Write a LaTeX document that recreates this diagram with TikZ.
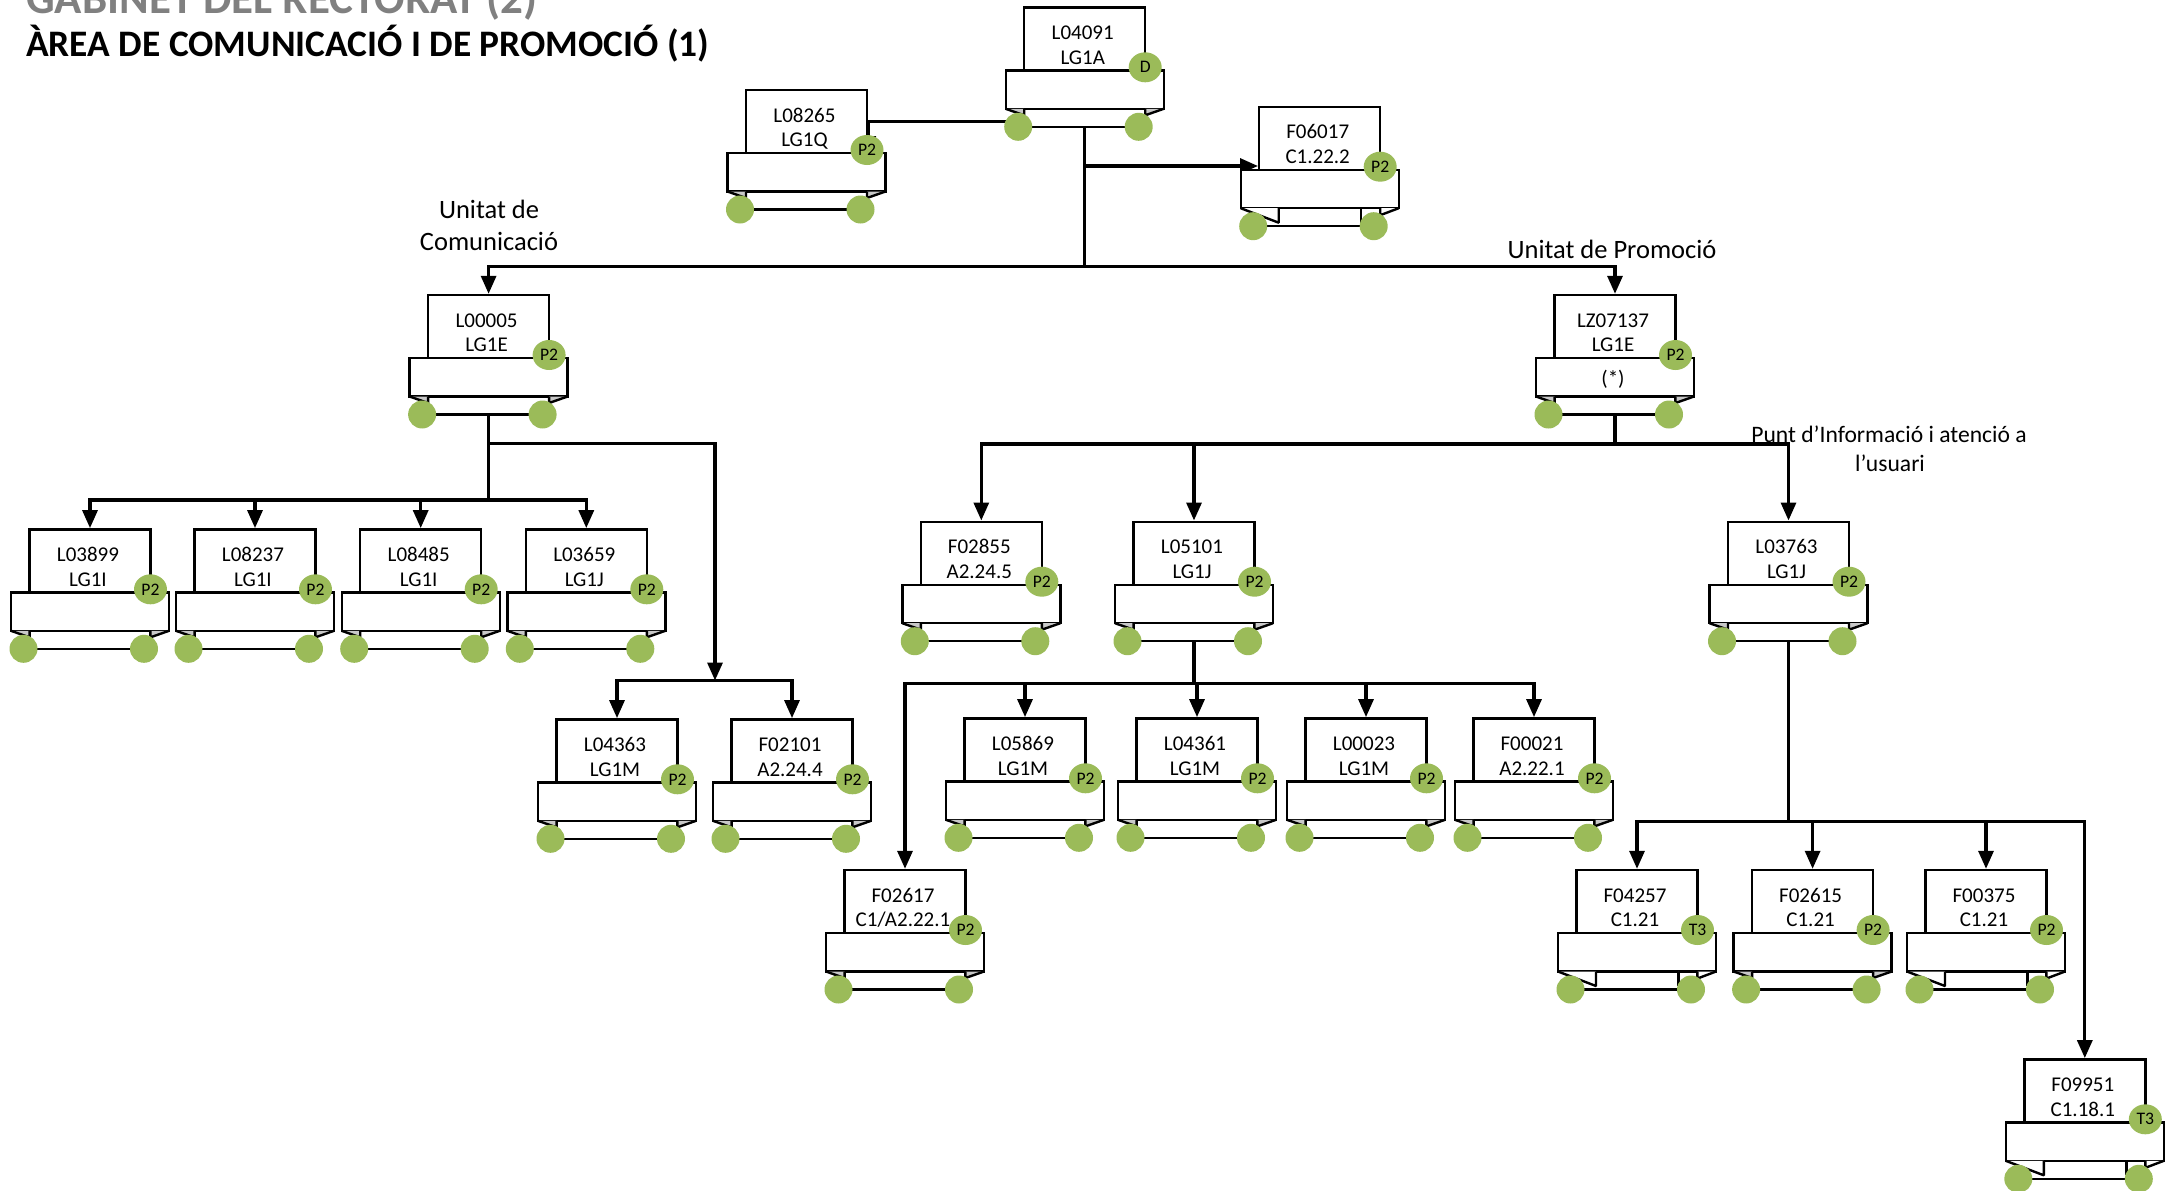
\documentclass[tikz,border=0pt]{standalone}
\usepackage{fontspec}
\setmainfont{Carlito}
\usetikzlibrary{arrows.meta,backgrounds,shapes.geometric}

\definecolor{leaf}{HTML}{9BBB59}
\definecolor{foldgray}{HTML}{C8C8C8}
\definecolor{titlegray}{HTML}{808080}

\tikzset{
  boxline/.style={line width=2.4pt,draw=black,fill=white},
  topbox/.style={boxline,minimum width=121pt,minimum height=63pt,inner sep=0pt},
  rib/.style={boxline,minimum width=158pt,minimum height=38.5pt,inner sep=0pt},
  wheel/.style={circle,fill=leaf,minimum size=28pt,inner sep=0pt},
  badge/.style={ellipse,fill=leaf,minimum width=33pt,minimum height=30pt,inner sep=0pt,
    font=\fontsize{17.6}{18}\selectfont},
  code/.style={anchor=base,inner sep=0pt,font=\fontsize{21}{24}\selectfont},
  unitlbl/.style={anchor=base,inner sep=0pt,font=\fontsize{26.5}{32}\selectfont},
  puntlbl/.style={anchor=base,inner sep=0pt,font=\fontsize{23.6}{29}\selectfont},
  conn/.style={line width=3.2pt,-{Triangle[length=18pt,width=15pt]}}
}

% name, x centre, top, code, level, badge, fold (0 small, 1 big)
\newcommand{\orgunit}[7]{%
  \pgfmathsetmacro{\ulx}{#2-60.5}
  \pgfmathsetmacro{\urx}{#2+60.5}
  \pgfmathsetmacro{\rbot}{#3+101.5}
  \pgfmathsetmacro{\wy}{#3+119.5}
  \node[topbox] (#1) at (#2,{#3+31.5}) {};
  \node[rib] (#1-rib) at (#2,{#3+82.25}) {};
  \draw[boxline] (\ulx,\rbot) rectangle (\urx,\wy);
  \ifnum#7=1
    \draw[boxline,line join=bevel] ({\ulx-18.5},\rbot) -- ({\ulx+19.5},{\rbot+14.5}) -- ({\ulx+19.5},\rbot);
    \draw[boxline,line join=bevel] ({\urx+18.5},\rbot) -- (\urx,{\rbot+7}) -- (\urx,\rbot);
    \draw[boxline] ({\urx-19},\rbot) -- ({\urx-19},{\rbot+14.5});
  \else
    \draw[boxline,fill=foldgray,line join=bevel] ({\ulx-18.5},\rbot) -- (\ulx,{\rbot+6.5}) -- (\ulx,\rbot);
    \draw[boxline,fill=foldgray,line join=bevel] ({\urx+18.5},\rbot) -- (\urx,{\rbot+6.5}) -- (\urx,\rbot);
  \fi
  \node[wheel] (#1-lc) at ({\ulx-6},\wy) {};
  \node[wheel] (#1-rc) at ({\urx-6.5},\wy) {};
  \coordinate (#1-out) at (#2,\wy);
  \node[code] (#1-c) at ({#2-2},{#3+32}) {#4};
  \node[code] (#1-l) at ({#2-2},{#3+56.7}) {#5};
  \node[badge] (#1-b) at (\urx,{#3+60}) {#6};
}

\begin{document}
\begin{tikzpicture}[x=1pt,y=-1pt]
\useasboundingbox (0,0) rectangle (2172,1191);
\clip (0,0) rectangle (2172,1191);

\node[anchor=base west,inner sep=0pt,text=titlegray,font=\fontsize{45}{48}\selectfont\bfseries] (gab) at (26,13.3) {GABINET DEL RECTORAT (2)};
\node[anchor=base west,inner sep=0pt,font=\fontsize{37.4}{40}\selectfont\bfseries] (area) at (26,56.7) {ÀREA DE COMUNICACIÓ I DE PROMOCIÓ (1)};

\orgunit{l04091}{1084.7}{7.3}{L04091}{LG1A}{D}{0}
\orgunit{l08265}{806.5}{90}{L08265}{LG1Q}{P2}{0}
\orgunit{f06017}{1319.7}{106.7}{F06017}{C1.22.2}{P2}{1}

\orgunit{l00005}{488.6}{295}{L00005}{LG1E}{P2}{0}
\orgunit{lz07137}{1615}{295}{LZ07137}{LG1E}{P2}{0}
\node[code] (lz07137-x) at (1613,385) {(*)};

\orgunit{l03899}{90}{529.3}{L03899}{LG1I}{P2}{0}
\orgunit{l08237}{255}{529.3}{L08237}{LG1I}{P2}{0}
\orgunit{l08485}{420.7}{529.3}{L08485}{LG1I}{P2}{0}
\orgunit{l03659}{586.3}{529.3}{L03659}{LG1J}{P2}{0}
\orgunit{l04363}{617}{719.3}{L04363}{LG1M}{P2}{0}
\orgunit{f02101}{792}{719.3}{F02101}{A2.24.4}{P2}{0}

\orgunit{f02855}{981.3}{521.7}{F02855}{A2.24.5}{P2}{0}
\orgunit{l05101}{1194}{521.7}{L05101}{LG1J}{P2}{0}
\orgunit{l03763}{1788.5}{521.7}{L03763}{LG1J}{P2}{0}

\orgunit{f02617}{905}{870}{F02617}{C1/A2.22.1}{P2}{0}
\orgunit{l05869}{1025}{718.3}{L05869}{LG1M}{P2}{0}
\orgunit{l04361}{1197}{718.3}{L04361}{LG1M}{P2}{0}
\orgunit{l00023}{1366}{718.3}{L00023}{LG1M}{P2}{0}
\orgunit{f00021}{1534}{718.3}{F00021}{A2.22.1}{P2}{0}

\orgunit{f04257}{1637}{870}{F04257}{C1.21}{T3}{1}
\orgunit{f02615}{1812.6}{870}{F02615}{C1.21}{P2}{0}
\orgunit{f00375}{1986}{870}{F00375}{C1.21}{P2}{1}
\orgunit{f09951}{2084.8}{1059.3}{F09951}{C1.18.1}{T3}{1}

\node[unitlbl] (com1) at (489,218) {Unitat de};
\node[unitlbl] (com2) at (489,250) {Comunicació};
\node[unitlbl] (prom) at (1612,258.3) {Unitat de Promoció};
\node[puntlbl] (punt1) at (1889,442.7) {Punt d’Informació i atenció a};
\node[puntlbl] (punt2) at (1890,471.7) {l’usuari};

\begin{pgfonlayer}{background}
\coordinate (busA) at (0,266.5);
\coordinate (busC) at (0,443.7);
\coordinate (busI) at (0,500);
\coordinate (dropM) at (715,680.5);
\coordinate (busP) at (0,444);
\coordinate (busJ) at (0,683.5);
\coordinate (busT) at (0,821.7);

\foreach \kid in {l00005,lz07137}
  \draw[conn] (l04091-out) -- (l04091-out |- busA) -| (\kid.north);
\draw[conn] (l04091-out) ++(0,39.2) coordinate (tapF) -- (tapF -| f06017.west);
\draw[conn] (l04091-lc) ++(0,-5) -| (l08265.south east);

\foreach \kid in {l03899,l08237,l08485,l03659}
  \draw[conn] (l00005-out) -- (l00005-out |- busI) -| (\kid.north);
\draw[conn] (l00005-out) -- (l00005-out |- busC) -| (dropM);
\foreach \kid in {l04363,f02101}
  \draw[conn] (dropM) -| (\kid.north);

\foreach \kid in {f02855,l05101,l03763}
  \draw[conn] (lz07137-out) -- (lz07137-out |- busP) -| (\kid.north);
\foreach \kid in {f02617,l05869,l04361,l00023,f00021}
  \draw[conn] (l05101-out) -- (l05101-out |- busJ) -| (\kid.north);
\foreach \kid in {f04257,f02615,f00375,f09951}
  \draw[conn] (l03763-out) -- (l03763-out |- busT) -| (\kid.north);
\end{pgfonlayer}

\end{tikzpicture}
\end{document}
